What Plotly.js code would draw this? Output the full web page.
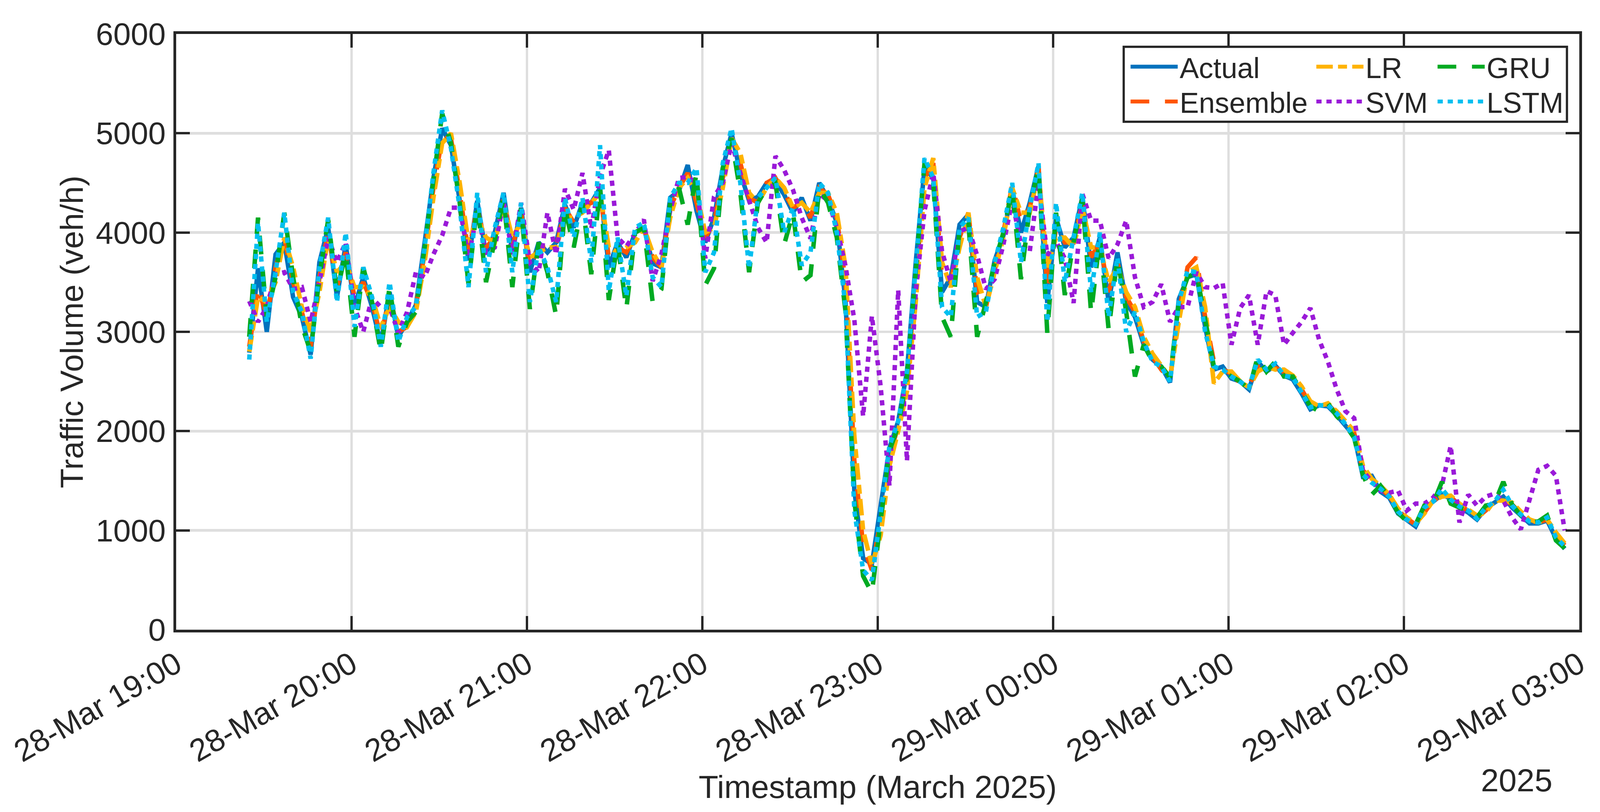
<!DOCTYPE html>
<html>
<head>
<meta charset="utf-8">
<script src="https://cdn.plot.ly/plotly-3.0.1.min.js"></script>
<style>
  html, body { margin: 0; padding: 0; background: #fff; overflow: hidden; }
  #chart { width: 100vw; height: 100vh; }
</style>
</head>
<body>
<div id="chart"></div>
<script>
// Traffic volume: actual vs model predictions, 28-29 March 2025
// one reading every 3 minutes from 19:25 to 02:55

const START = '2025-03-28T19:25:00';
const STEP_MIN = 3;

const ACTUAL = [
  2790,3640,3000,3780,3900,3350,3150,2770,3700,4050,
  3350,3880,3250,3550,3250,2880,3400,2950,3100,3270,
  3900,4550,5050,4880,4320,3720,4320,3780,4000,4400,
  3800,4250,3600,3900,3800,3900,4280,4050,4300,4300,
  4450,3650,3900,3750,4000,4050,3690,3650,4350,4420,
  4680,4220,3900,4150,4650,5000,4600,4320,4360,4500,
  4520,4380,4200,4350,4120,4500,4340,4100,3300,1400,
  720,660,1250,1830,2100,2600,3700,4650,4550,3400,
  3550,4080,4180,3300,3250,3720,3970,4440,4000,4300,
  4670,3290,4150,3850,3950,4360,3650,3950,3300,3800,
  3300,3150,2870,2720,2650,2490,3330,3550,3580,3050,
  2620,2650,2530,2500,2420,2700,2600,2660,2560,2520,
  2380,2220,2260,2250,2160,2060,1950,1540,1550,1390,
  1330,1170,1100,1040,1220,1290,1360,1320,1230,1180,
  1110,1220,1280,1340,1230,1145,1070,1070,1100,920,
  815
];

const ENSEMBLE = [
  2850,3450,3150,3650,3950,3500,3200,2850,3550,4000,
  3450,3800,3350,3500,3300,2950,3350,3000,3050,3250,
  3800,4450,4950,4950,4400,3800,4250,3850,3950,4350,
  3850,4200,3650,3850,3850,3850,4250,4100,4250,4300,
  4400,3750,3850,3800,3950,4050,3750,3650,4250,4450,
  4600,4300,3950,4100,4550,4950,4700,4350,4300,4500,
  4550,4400,4250,4300,4150,4450,4380,4150,3500,1700,
  850,600,1100,1750,2050,2500,3500,4550,4700,3550,
  3500,3950,4200,3400,3250,3650,4000,4480,4100,4250,
  4650,3450,4050,3900,3900,4300,3750,3900,3400,3700,
  3350,3200,2900,2750,2620,2520,3200,3650,3750,3150,
  2700,2620,2580,2480,2460,2650,2620,2640,2600,2550,
  2420,2270,2250,2270,2180,2080,1980,1600,1530,1420,
  1350,1200,1120,1060,1190,1300,1350,1340,1250,1200,
  1130,1200,1290,1320,1260,1170,1100,1080,1110,950,
  850
];

const LR = [
  2800,3350,3300,3500,3950,3650,3250,3000,3400,3950,
  3600,3700,3450,3450,3350,3050,3250,3100,3050,3200,
  3700,4350,4900,5000,4500,3900,4150,3950,3900,4300,
  3950,4100,3750,3800,3850,3850,4150,4150,4200,4300,
  4400,3850,3800,3850,3900,4050,3800,3650,4150,4450,
  4550,4400,4000,4050,4450,4950,4800,4400,4300,4450,
  4550,4450,4250,4300,4200,4400,4400,4200,3650,1950,
  1000,650,950,1650,2000,2400,3300,4450,4750,3700,
  3450,3850,4200,3550,3250,3600,3950,4450,4200,4200,
  4600,3650,3950,3950,3850,4250,3850,3850,3500,3650,
  3400,3250,2950,2780,2650,2540,3100,3600,3650,3250,
  2480,2600,2600,2500,2440,2600,2650,2620,2620,2560,
  2450,2300,2250,2280,2200,2100,2000,1650,1520,1450,
  1360,1220,1130,1070,1170,1300,1340,1350,1270,1210,
  1150,1180,1300,1300,1280,1190,1110,1080,1110,980,
  870
];

const SVM = [
  3310,3100,3250,3580,3600,3430,3450,3100,3500,3950,
  3700,3900,3250,3000,3340,3250,3250,2990,3200,3600,
  3550,3780,3970,4250,4250,3750,4200,3800,3850,4300,
  3780,4300,3690,3600,4200,3780,4440,4230,4600,4040,
  4570,4830,3950,3860,3990,4130,3510,3780,4220,4550,
  4560,4500,3740,4360,4500,4900,4600,4320,4050,3900,
  4770,4630,4430,4150,3940,4390,4320,4050,3660,3120,
  2150,3160,2450,1450,3420,1700,3400,4220,4600,3810,
  3500,4010,4050,3770,3430,3530,3880,4320,3880,3810,
  4500,3770,3910,3740,3290,4390,4120,4120,3740,3880,
  4120,3550,3250,3300,3480,3100,3250,3250,3600,3450,
  3440,3490,2870,3240,3370,2870,3410,3370,2870,2990,
  3100,3240,2920,2700,2420,2200,2130,1600,1490,1400,
  1380,1400,1200,1270,1270,1330,1450,1850,1080,1360,
  1250,1340,1370,1300,1130,1010,1320,1610,1650,1550,
  1000
];

const GRU = [
  2950,4150,3150,3550,4200,3550,3060,2800,3550,4130,
  3400,3800,2950,3650,3300,2800,3450,2850,3100,3200,
  3850,4550,5200,4900,4300,3480,4300,3500,3950,4350,
  3450,4250,3230,3900,3600,3160,4250,3850,4300,3580,
  4450,3320,3900,3230,4000,4050,3300,3430,4300,4450,
  4080,4600,3470,3640,4650,4950,4400,3600,4300,4450,
  4500,3880,4200,3500,3570,4450,4300,3950,3200,1300,
  540,370,1100,1800,2050,2550,3600,4700,4500,3150,
  2950,4050,4100,2950,3300,3700,4000,4450,3530,4250,
  4650,2990,4200,3370,3900,4350,3190,3950,3020,3750,
  3200,2550,2870,2700,2650,2540,3300,3550,3600,3100,
  2650,2600,2550,2500,2420,2750,2600,2700,2550,2550,
  2400,2250,2200,2280,2150,2060,1930,1560,1360,1450,
  1330,1180,1090,1060,1250,1270,1490,1270,1230,1200,
  1130,1250,1270,1490,1260,1150,1080,1090,1150,900,
  820
];

const LSTM = [
  2720,4100,3100,3600,4200,3400,3200,2730,3650,4150,
  3300,4000,3050,3650,3350,2850,3500,2900,3150,3250,
  3850,4600,5230,4850,4250,3450,4400,3600,4050,4400,
  3600,4300,3300,3850,3650,3300,4350,3950,4350,3700,
  4880,3410,3950,3360,4050,4100,3550,3450,4350,4500,
  4500,4650,3600,3800,4700,5050,4500,3640,4350,4450,
  4550,4000,4250,3670,3800,4500,4400,4000,3250,1200,
  600,500,1150,1850,2100,2600,3650,4750,4550,3250,
  3150,4050,4150,3150,3200,3700,4050,4500,3700,4250,
  4700,3100,4300,3500,3950,4400,3400,4000,3150,3750,
  3000,3200,2900,2700,2650,2500,3300,3620,3600,3000,
  2650,2620,2550,2500,2440,2720,2620,2680,2560,2540,
  2400,2240,2260,2260,2180,2070,1940,1560,1480,1420,
  1340,1190,1110,1060,1230,1290,1420,1310,1240,1200,
  1120,1230,1290,1410,1250,1160,1090,1080,1130,930,
  840
];

const INK = '#262626';
const FONT = '"Liberation Sans", Arial, Helvetica, sans-serif';

// the figure was laid out for 4277x2080; scale to whatever the viewport really is
const W0 = 4277, H0 = 2080;
const W = document.documentElement.clientWidth || window.innerWidth || W0;
const H = document.documentElement.clientHeight || window.innerHeight || H0;
const sx = W / W0, sy = H / H0, s = Math.min(sx, sy);
const px = v => v * s;

function pad(n){ return String(n).padStart(2,'0'); }
function timeAxis(n) {
  const t0 = new Date(START).getTime();
  const out = [];
  for (let i = 0; i < n; i++) {
    const d = new Date(t0 + i*STEP_MIN*60000);
    out.push(`${d.getFullYear()}-${pad(d.getMonth()+1)}-${pad(d.getDate())} ${pad(d.getHours())}:${pad(d.getMinutes())}`);
  }
  return out;
}
const T = timeAxis(ACTUAL.length);

function dash(list) { return list.map(v => px(v).toFixed(1) + 'px').join(','); }

// draw order as in the original figure; one small legend per entry so the
// 3x2 grid keeps its uneven column widths
const SERIES = [
  {name:'Actual',   y:ACTUAL,   color:'#0072BD', dash:'solid',             legend:'legend'},
  {name:'Ensemble', y:ENSEMBLE, color:'#FF5500', dash:dash([50,42]),       legend:'legend2'},
  {name:'LR',       y:LR,       color:'#FFB300', dash:dash([44,14,24,14]), legend:'legend3'},
  {name:'SVM',      y:SVM,      color:'#9A1AD8', dash:dash([14,13]),       legend:'legend4'},
  {name:'GRU',      y:GRU,      color:'#00AA22', dash:dash([50,42]),       legend:'legend5'},
  {name:'LSTM',     y:LSTM,     color:'#00BFF0', dash:dash([14,13]),       legend:'legend6'}
];

const traces = SERIES.map(sr => ({
  x: T, y: sr.y, name: sr.name, type: 'scatter', mode: 'lines',
  line: {color: sr.color, width: px(12), dash: sr.dash},
  legend: sr.legend
}));

function leg(x, y) {
  return {x, y, xanchor:'left', yanchor:'middle', orientation:'v',
    bgcolor:'rgba(0,0,0,0)', borderwidth:0, itemwidth:Math.max(30, px(126)),
    font:{family:FONT, size:px(77), color:INK}};
}

const axisBase = {
  ticks:'inside', ticklen:px(37), tickwidth:px(6), tickcolor:INK,
  showline:true, linewidth:px(7), linecolor:INK, mirror:'ticks',
  showgrid:true, gridcolor:'#dedede', gridwidth:px(7), zeroline:false,
  tickfont:{family:FONT, size:px(84), color:INK}, automargin:false
};

const layout = {
  width:W, height:H,
  margin:{l:471*sx, r:55*sx, t:87*sy, b:467*sy, pad:0},
  paper_bgcolor:'#ffffff', plot_bgcolor:'#ffffff',
  font:{family:FONT, color:INK},
  xaxis:{...axisBase,
    type:'date', range:['2025-03-28 19:00','2025-03-29 03:00'],
    tickmode:'linear', tick0:'2025-03-28 19:00', dtick:3600000,
    tickformat:'%d-%b %H:%M', tickangle:-30, ticklabelstandoff:Math.round(px(4)),
    title:{text:'Timestamp (March 2025)', font:{family:FONT, size:px(86), color:INK}, standoff:Math.round(px(10))}
  },
  yaxis:{...axisBase,
    range:[0,6000], tickmode:'linear', tick0:0, dtick:1000, ticklabelstandoff:Math.round(px(4)),
    title:{text:'Traffic Volume (veh/h)', font:{family:FONT, size:px(86), color:INK}, standoff:Math.round(px(8))}
  },
  legend: leg(0.6788, 0.945),
  legend2: leg(0.6788, 0.8866),
  legend3: leg(0.8112, 0.945),
  legend4: leg(0.8112, 0.8866),
  legend5: leg(0.8976, 0.945),
  legend6: leg(0.8976, 0.8866),
  shapes:[
    {type:'rect', xref:'paper', yref:'paper', x0:0.6753, x1:0.9912, y0:0.8526, y1:0.9784,
     line:{color:INK, width:px(6)}, fillcolor:'#ffffff', layer:'above'}
  ],
  annotations:[
    {text:'2025', xref:'paper', yref:'paper', x:0.9813, y:-0.2208,
     xanchor:'right', yanchor:'top', showarrow:false,
     font:{family:FONT, size:px(86), color:INK}}
  ],
  showlegend:true
};

Plotly.newPlot('chart', traces, layout, {displayModeBar:false, staticPlot:true});
</script>
</body>
</html>
